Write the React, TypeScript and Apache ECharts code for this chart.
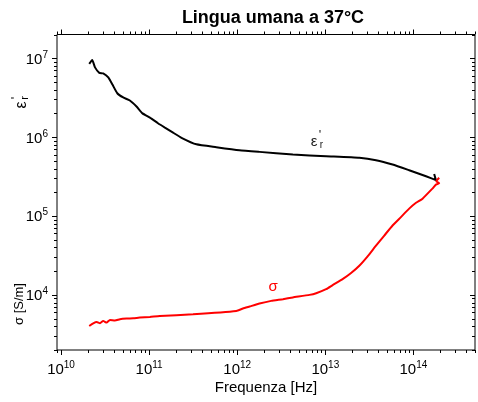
import React, { useEffect, useRef } from "react";
import * as echarts from "echarts";

// Frequency [Hz], relative permittivity eps'_r
const epsFreq = [2.09e10, 2.26e10, 2.43e10, 2.72e10, 3.01e10, 3.44e10, 3.85e10, 4.35e10, 5.08e10, 6.04e10, 7.19e10, 8.41e10, 1.02e11, 1.26e11, 1.51e11, 1.87e11, 2.33e11, 3.44e11, 5.79e11, 1.06e12, 1.79e12, 4.28e12, 1.02e13, 2.43e13, 3.76e13, 5.8e13, 8.95e13, 1.39e14, 1.8e14, 1.72e14];
const epsValues = [8.5e6, 9.5e6, 7.66e6, 6.53e6, 6.43e6, 5.71e6, 4.6e6, 3.6e6, 3.18e6, 2.91e6, 2.44e6, 2.0e6, 1.77e6, 1.5e6, 1.32e6, 1.14e6, 9.8e5, 8.1e5, 7.46e5, 6.83e5, 6.5e5, 6.02e5, 5.73e5, 5.47e5, 5.1e5, 4.49e5, 3.8e5, 3.19e5, 2.85e5, 3.4e5];

// Frequency [Hz], conductivity sigma [S/m]
const sigmaFreq = [2.09e10, 2.32e10, 2.54e10, 2.77e10, 3.01e10, 3.29e10, 3.59e10, 4.09e10, 4.66e10, 5.55e10, 6.59e10, 7.85e10, 1.02e11, 1.32e11, 3.15e11, 9.77e11, 1.16e12, 1.38e12, 1.79e12, 2.43e12, 3.3e12, 4.28e12, 6.61e12, 7.87e12, 1.02e13, 1.21e13, 1.57e13, 1.96e13, 2.43e13, 3.02e13, 3.76e13, 4.67e13, 5.8e13, 7.21e13, 8.95e13, 1.07e14, 1.27e14, 1.64e14, 1.8e14, 1.96e14, 1.82e14, 1.96e14];
const sigmaValues = [4.03e3, 4.36e3, 4.53e3, 4.36e3, 4.67e3, 4.45e3, 4.81e3, 4.72e3, 4.9e3, 5.0e3, 5.05e3, 5.15e3, 5.25e3, 5.4e3, 5.67e3, 6.25e3, 6.71e3, 7.11e3, 7.76e3, 8.39e3, 8.81e3, 9.27e3, 1.0e4, 1.05e4, 1.18e4, 1.33e4, 1.58e4, 1.89e4, 2.34e4, 3.08e4, 4.21e4, 5.65e4, 7.57e4, 9.68e4, 1.24e5, 1.47e5, 1.66e5, 2.22e5, 2.5e5, 2.6e5, 2.75e5, 3.05e5];

const xMin = 9e9;
const xMax = 5e14;
const yMin = 2e3;
const yMax = 2e7;
const xDecades = [9, 10, 11, 12, 13, 14];
const yDecades = [3, 4, 5, 6, 7];
const minorMultipliers = [1, 2, 3, 4, 5, 6, 7, 8, 9];

const title = "Lingua umana a 37°C";
const xName = "Frequenza [Hz]";
const sigmaName = "σ [S/m]";

const FONT = "Liberation Sans, Arial, sans-serif";

function buildTicks(decades: number[], lo: number, hi: number) {
  const out: number[] = [];
  decades.forEach((d) => {
    minorMultipliers.forEach((m) => {
      const v = m * Math.pow(10, d);
      if (v >= lo * 0.999 && v <= hi * 1.001) out.push(v);
    });
  });
  return out;
}

function isMajor(v: number) {
  const l = Math.log10(v);
  return Math.abs(l - Math.round(l)) < 1e-9;
}

function powLabel(v: number) {
  const l = Math.log10(v);
  const e = Math.round(l);
  if (Math.abs(l - e) > 1e-6) return "";
  return `{b|10}{s|${e}}`;
}

export default function App() {
  const ref = useRef<HTMLDivElement>(null);
  useEffect(() => {
    if (!ref.current) return;
    const chart = echarts.init(ref.current, undefined, { renderer: "svg" });
    const xTicks = buildTicks(xDecades, xMin, xMax).map((v) => [v, 1e5]);
    const yTicks = buildTicks(yDecades, yMin, yMax).map((v) => [1e12, v]);
    const rich = {
      b: { fontSize: 15, fontFamily: FONT, color: "#000", lineHeight: 18 },
      s: { fontSize: 10, fontFamily: FONT, color: "#000", verticalAlign: "top", lineHeight: 10 },
    };
    const txt = (text: string, x: number, y: number, size: number, fill: string) => ({
      type: "text",
      x,
      y,
      style: { text, fontFamily: FONT, fontSize: size, fill, align: "center", verticalAlign: "middle" },
    });
    chart.setOption({
      animation: false,
      title: {
        text: title,
        left: 268,
        top: 3,
        textAlign: "center",
        textStyle: { fontFamily: FONT, fontSize: 18, fontWeight: "bold", color: "#000" },
      },
      grid: {
        left: 57,
        right: 1.5,
        top: 34.5,
        bottom: 52,
        show: true,
        borderColor: "#000",
        borderWidth: 1,
        backgroundColor: "transparent",
      },
      xAxis: {
        type: "log",
        logBase: 10,
        min: xMin,
        max: xMax,
        axisLine: { show: false },
        axisTick: { show: false },
        splitLine: { show: false },
        axisLabel: { interval: 0, margin: 9, formatter: powLabel, rich },
      },
      yAxis: {
        type: "log",
        logBase: 10,
        min: yMin,
        max: yMax,
        axisLine: { show: false },
        axisTick: { show: false },
        splitLine: { show: false },
        axisLabel: { interval: 0, margin: 9, formatter: powLabel, rich },
      },
      graphic: [
        txt(xName, 266, 386, 15, "#000"),
        {
          type: "group",
          x: 20,
          y: 105,
          rotation: Math.PI / 2,
          children: [
            txt("ε", 0, 0, 16, "#000"),
            txt("r", 7, 4, 11, "#000"),
            txt("'", 7, -5, 13, "#000"),
          ],
        },
        {
          type: "text",
          x: 18,
          y: 304,
          rotation: Math.PI / 2,
          style: { text: sigmaName, fontFamily: FONT, fontSize: 13, fill: "#000", align: "center", verticalAlign: "middle" },
        },
        txt("ε", 314, 140, 15, "#222"),
        txt("'", 320, 134, 13, "#222"),
        txt("r", 321.5, 144, 10, "#222"),
        txt("σ", 273, 285, 15, "#ff0000"),
      ],
      series: [
        {
          name: "eps",
          type: "line",
          data: epsFreq.map((f, i) => [f, epsValues[i]]),
          showSymbol: false,
          smooth: 0.15,
          lineStyle: { color: "#000", width: 2 },
          itemStyle: { color: "#000" },
        },
        {
          name: "sigma",
          type: "line",
          data: sigmaFreq.map((f, i) => [f, sigmaValues[i]]),
          showSymbol: false,
          smooth: 0.15,
          lineStyle: { color: "#ff0000", width: 2 },
          itemStyle: { color: "#ff0000" },
        },
        {
          type: "custom",
          silent: true,
          clip: false,
          data: xTicks,
          renderItem: (params: any, api: any) => {
            const cs = params.coordSys;
            const v = api.value(0);
            const px = Math.round(api.coord([v, api.value(1)])[0]) + 0.5;
            const len = isMajor(v) ? 5 : 3;
            const bottom = cs.y + cs.height;
            const top = cs.y;
            return {
              type: "group",
              children: [
                { type: "line", shape: { x1: px, y1: bottom, x2: px, y2: bottom + len }, style: { stroke: "#000", lineWidth: 1 } },
                { type: "line", shape: { x1: px, y1: top, x2: px, y2: top - len }, style: { stroke: "#000", lineWidth: 1 } },
              ],
            };
          },
        },
        {
          type: "custom",
          silent: true,
          clip: false,
          data: yTicks,
          renderItem: (params: any, api: any) => {
            const cs = params.coordSys;
            const v = api.value(1);
            const py = Math.round(api.coord([api.value(0), v])[1]) + 0.5;
            const len = isMajor(v) ? 5 : 3;
            const left = cs.x;
            const right = cs.x + cs.width;
            return {
              type: "group",
              children: [
                { type: "line", shape: { x1: left, y1: py, x2: left - len, y2: py }, style: { stroke: "#000", lineWidth: 1 } },
                { type: "line", shape: { x1: right, y1: py, x2: right - len, y2: py }, style: { stroke: "#000", lineWidth: 1 } },
              ],
            };
          },
        },
      ],
    });
    return () => chart.dispose();
  }, []);
  return <div ref={ref} style={{ position: "fixed", left: 0, top: 0, width: 478, height: 402 }} />;
}
